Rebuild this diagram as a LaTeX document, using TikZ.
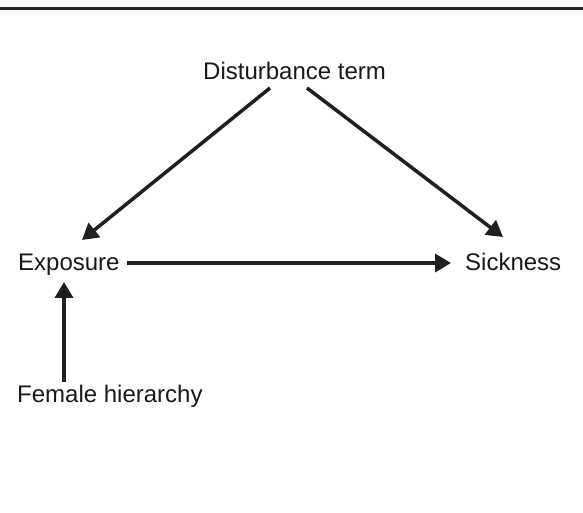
\documentclass[tikz,border=0pt]{standalone}
\usepackage{fontspec}
\setmainfont{Liberation Sans}
\usetikzlibrary{arrows.meta}
\begin{document}
\begin{tikzpicture}[x=1pt,y=1pt,
  lbl/.style={inner sep=0pt, anchor=base west, font=\fontsize{24}{28}\selectfont, text=black!90},
  conn/.style={line width=3.5pt, draw=black!88, -{Triangle[length=16pt,width=18pt]}}]
\useasboundingbox (0,0) rectangle (583,513);
\fill[white] (0,0) rectangle (583,513);
\draw[line width=3pt, black!85] (0,504.5) -- (583,504.5);
\node[lbl] (dist) at (203,433) {Disturbance term};
\node[lbl] (exp) at (18,242) {Exposure};
\node[lbl] (sick) at (465,242) {Sickness};
\node[lbl] (fem) at (17,110) {Female hierarchy};
\coordinate (d1) at (270,425);
\coordinate (d2) at (307,425);
\coordinate (e1) at (82,273);
\coordinate (s1) at (503,276);
\coordinate (eR) at (127,250);
\coordinate (sL) at (451,250);
\coordinate (fT) at (64,131);
\coordinate (eB) at (64,231);
\draw[conn] (d1) -- (e1);
\draw[conn] (d2) -- (s1);
\draw[conn] (eR) -- (sL);
\draw[conn] (fT) -- (eB);
\end{tikzpicture}
\end{document}
